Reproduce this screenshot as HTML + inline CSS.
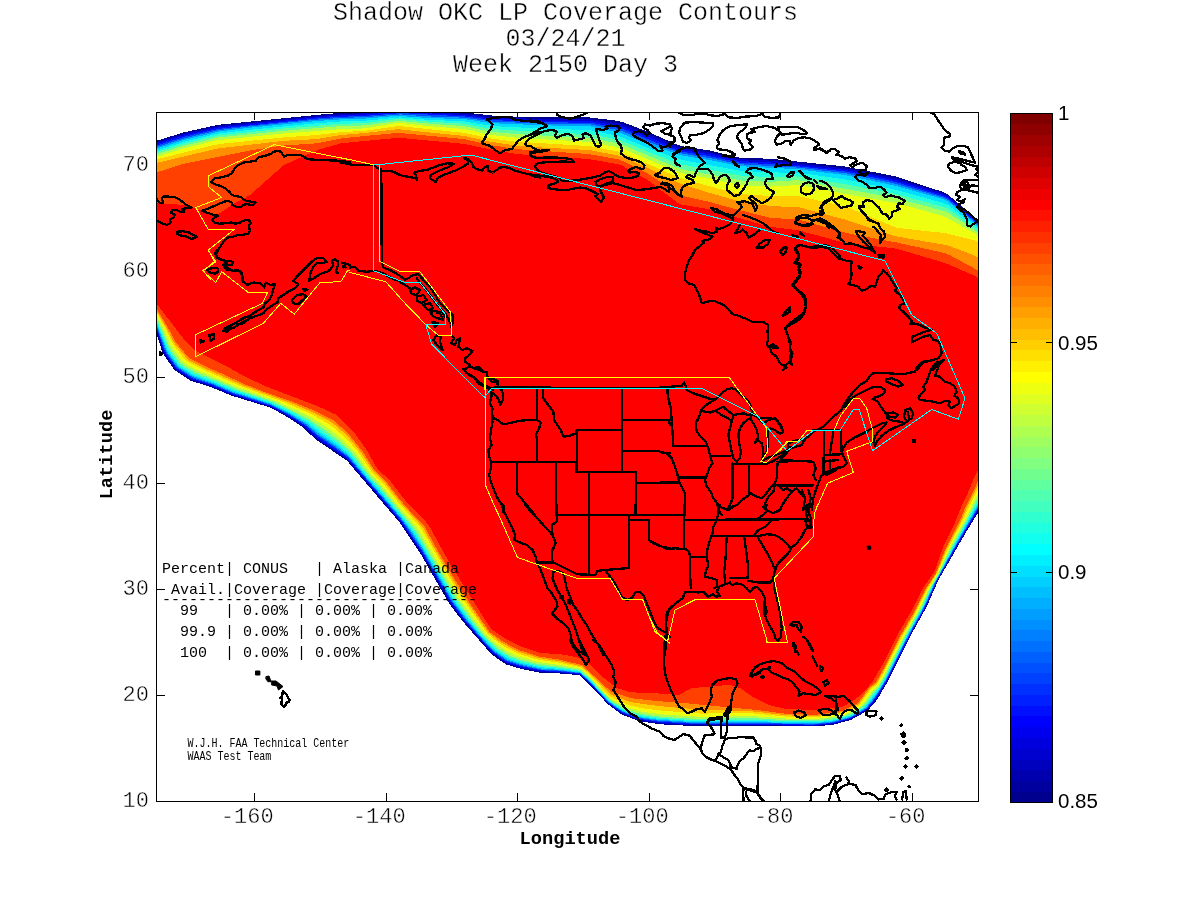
<!DOCTYPE html>
<html lang="en"><head><meta charset="utf-8"><title>Shadow OKC LP Coverage Contours</title>
<style>
html,body{margin:0;padding:0;background:#fff;}
body{width:1200px;height:900px;overflow:hidden;}
svg{display:block;}
.mono{font-family:"Liberation Mono","DejaVu Sans Mono",monospace;}
.sans{font-family:"Liberation Sans","DejaVu Sans",sans-serif;}
</style></head>
<body>
<svg width="1200" height="900" viewBox="0 0 1200 900">
<rect x="0" y="0" width="1200" height="900" fill="#fff"/>
<defs><clipPath id="ax"><rect x="157" y="113" width="821" height="688"/></clipPath></defs>
<g class="mono" font-size="25" text-anchor="middle" fill="#000" stroke="#fff" stroke-width="0.4">
<text x="565.5" y="20">Shadow OKC LP Coverage Contours</text>
<text x="565.5" y="46">03/24/21</text>
<text x="565.5" y="72">Week 2150 Day 3</text>
</g>
<path d="M254.5,801V793M254.5,113V120M386.5,801V793M386.5,113V120M517.5,801V793M517.5,113V120M649.5,801V793M649.5,113V120M780.5,801V793M780.5,113V120M912.5,801V793M912.5,113V120M157,695.5H165M978,695.5H970M157,589.5H165M978,589.5H970M157,483.5H165M978,483.5H970M157,377.5H165M978,377.5H970M157,271.5H165M978,271.5H970M157,165.5H165M978,165.5H970" stroke="#000" stroke-width="1" fill="none" shape-rendering="crispEdges"/>
<g clip-path="url(#ax)" shape-rendering="crispEdges">
<path fill="#00008f" fill-rule="evenodd" d="M366.5,111.8 401.2,109.0 429.2,110.1 464.8,112.4 490.2,115.4 514.8,116.6 540.8,117.4 589.8,117.5 616.8,120.7 622.8,122.1 647.9,131.8 677.2,144.7 682.2,146.2 709.8,150.5 739.8,157.7 770.8,158.8 845.2,166.5 895.2,176.4 942.8,191.9 948.2,194.7 977.6,220.2 1006.2,256.8 1010.2,260.9 1014.2,261.8 1049.8,261.8 1049.8,400.0 1033.8,391.7 1029.2,389.7 1028.2,389.8 1010.6,450.8 979.6,510.2 965.7,532.8 938.2,580.4 927.0,606.2 911.8,633.6 887.9,681.2 877.0,699.8 867.8,710.5 851.2,719.8 832.8,724.9 814.8,726.4 689.2,725.8 659.8,724.3 639.2,721.2 621.8,714.5 607.8,704.2 595.2,690.2 579.7,675.2 558.8,673.4 540.8,672.8 520.2,668.7 505.8,664.4 491.2,654.0 463.1,621.8 449.3,603.8 420.2,553.2 399.9,522.8 347.1,460.8 314.8,438.7 303.8,428.0 287.8,417.3 271.1,407.8 231.2,395.5 210.2,386.8 190.2,380.6 174.2,369.8 162.5,352.8 149.2,310.3 119.2,259.8 118.7,259.2 114.8,258.7 90.2,260.1 90.2,149.9 116.8,149.9 121.8,149.4 156.5,140.8 183.8,132.4 217.8,124.8 316.8,114.9 339.8,112.9Z"/>
<path fill="#0000cf" fill-rule="evenodd" d="M393.7,110.8 402.8,110.5 461.2,113.6 489.8,116.9 512.2,118.0 540.8,119.0 587.8,119.2 594.8,119.8 621.2,123.9 649.2,134.7 680.2,147.6 710.2,152.5 738.2,159.1 771.2,160.7 844.8,168.2 895.2,178.3 942.8,193.4 948.2,196.1 977.2,221.1 1006.2,258.1 1010.2,262.1 1014.2,263.0 1049.8,263.0 1049.8,400.0 1029.1,389.2 1027.3,389.2 1009.6,450.8 978.6,510.2 964.8,532.8 937.8,580.2 924.5,609.8 911.2,633.2 887.4,680.8 876.3,699.2 867.2,709.9 850.8,719.1 832.8,724.1 814.8,725.7 689.2,725.0 660.2,723.4 639.8,720.4 622.2,713.8 607.8,703.3 595.6,689.8 579.8,674.5 559.2,672.6 540.8,671.9 520.8,667.8 506.2,663.4 491.9,653.2 463.9,621.2 450.2,603.4 420.8,552.2 400.7,522.2 347.5,459.8 315.6,437.8 304.2,427.0 288.7,416.8 271.8,407.2 232.2,394.9 210.8,386.0 190.8,379.7 175.2,369.2 163.4,352.2 149.8,310.0 119.5,259.2 114.7,258.6 90.2,260.1 90.2,151.6 116.8,151.6 121.8,151.1 156.2,142.5 184.2,133.8 218.2,126.2 317.8,116.1 340.2,114.3 365.8,113.2Z"/>
<path fill="#0010ff" fill-rule="evenodd" d="M397.8,111.8 463.8,115.1 493.8,118.7 539.2,120.5 592.2,121.3 620.8,126.0 676.8,148.3 682.2,149.9 709.8,154.3 740.2,161.1 772.8,162.6 845.8,170.0 895.2,180.1 942.8,194.8 948.2,197.4 977.2,222.1 1006.2,259.1 1010.2,263.1 1014.2,264.0 1049.8,264.0 1049.8,399.9 1029.2,389.1 1026.5,388.8 1011.8,441.8 1009.0,450.2 978.0,509.8 964.2,532.7 937.2,580.3 923.9,609.8 910.8,633.1 886.8,680.8 875.8,698.8 867.0,709.2 852.2,717.8 847.2,719.6 832.2,723.5 814.8,725.1 689.8,724.3 660.2,722.6 639.8,719.6 622.2,713.1 608.2,703.1 595.8,689.2 579.8,674.0 559.2,672.0 541.2,671.1 521.2,667.0 506.8,662.6 492.6,652.8 464.5,620.8 450.9,602.8 421.7,552.2 401.6,522.2 347.8,458.8 316.2,436.7 304.8,426.1 288.8,415.8 271.8,406.5 232.2,394.1 211.2,385.3 191.2,378.8 175.8,368.5 164.1,351.8 150.3,310.2 136.2,287.2 120.0,259.2 119.2,258.7 114.8,258.5 90.2,260.0 90.2,153.2 116.8,153.2 121.8,152.7 156.2,144.0 184.2,135.3 218.8,127.5 317.2,117.3 339.8,115.5 365.8,114.5Z"/>
<path fill="#0050ff" fill-rule="evenodd" d="M365.8,115.8 401.2,113.1 463.8,116.4 493.2,120.1 539.2,122.0 591.2,122.9 620.8,128.3 654.6,141.8 677.2,150.3 682.2,151.7 709.8,156.2 740.2,162.7 770.2,164.1 796.8,166.1 845.8,171.6 895.2,181.9 942.8,196.1 948.2,198.8 977.2,223.1 1006.2,260.1 1010.2,264.1 1014.2,265.0 1049.8,265.0 1049.8,399.8 1028.8,388.8 1025.8,388.2 1011.1,441.8 1008.5,449.8 977.2,509.7 957.0,544.2 937.2,579.8 923.4,609.8 910.4,632.8 886.5,680.2 875.2,698.3 866.7,708.8 852.1,717.2 847.2,719.0 832.2,722.9 814.2,724.6 690.2,723.5 660.8,721.9 640.2,718.9 622.8,712.6 608.2,702.5 595.9,688.8 588.5,681.2 579.8,673.5 559.2,671.3 541.2,670.3 521.2,666.1 506.8,661.5 493.2,652.2 480.2,638.0 465.2,620.4 451.8,602.5 422.2,551.5 402.2,521.8 348.2,458.0 335.3,448.2 316.8,435.5 305.2,425.3 289.4,415.2 272.2,406.0 232.8,393.4 211.8,384.6 192.2,378.1 176.4,367.8 165.0,351.8 150.4,309.8 136.5,287.2 120.2,259.0 114.8,258.4 90.2,260.0 90.3,154.8 116.8,154.8 121.8,154.3 156.2,145.6 184.2,136.8 218.8,128.8 316.8,118.5 339.8,116.8Z"/>
<path fill="#009fff" fill-rule="evenodd" d="M365.2,117.1 400.3,114.4 427.8,116.4 463.8,117.7 493.2,121.6 539.2,123.5 590.8,124.5 620.2,130.5 651.2,142.9 676.8,152.0 682.2,153.5 709.8,158.1 740.2,164.3 797.8,167.6 845.2,173.2 895.2,183.7 942.8,197.5 948.2,200.1 977.2,224.2 1006.2,261.2 1010.2,265.1 1014.2,266.0 1049.8,266.0 1049.8,399.8 1029.1,388.8 1025.0,387.8 1010.6,441.2 1007.8,449.6 976.8,509.2 956.4,544.2 934.9,583.2 922.9,609.8 909.9,632.8 885.9,680.2 874.4,698.2 866.2,708.3 851.8,716.8 846.8,718.6 832.2,722.3 814.2,724.0 749.2,723.0 690.2,722.8 657.2,720.6 639.8,718.0 627.8,713.9 621.8,711.3 608.2,701.9 596.2,688.5 580.2,673.1 559.2,670.6 541.8,669.6 521.2,665.2 507.2,660.7 493.8,651.5 480.9,637.8 466.2,620.2 452.3,601.8 423.1,551.2 406.8,526.8 400.4,518.2 364.4,476.2 348.8,457.2 336.2,447.5 317.2,434.3 306.2,424.7 290.1,414.8 279.8,409.2 270.2,404.4 233.2,392.8 211.8,383.7 192.6,377.2 177.8,367.6 176.2,366.2 165.8,351.3 150.9,309.8 136.5,286.8 120.4,258.8 114.8,258.3 90.2,259.9 90.2,156.4 116.8,156.4 121.8,155.9 156.2,147.2 184.8,138.2 219.2,130.1 251.0,126.2 316.2,119.7 339.8,118.0Z"/>
<path fill="#00dfff" fill-rule="evenodd" d="M397.2,115.8 428.2,118.0 464.8,119.2 491.8,123.2 538.8,125.2 590.8,126.5 619.9,132.8 651.2,145.5 682.2,155.6 710.0,160.2 740.2,166.2 797.4,169.2 844.8,175.0 895.4,185.8 943.1,199.2 948.3,201.8 977.2,225.4 1006.2,262.2 1010.2,266.2 1014.2,267.1 1049.8,267.1 1049.8,399.7 1029.2,388.7 1025.2,387.2 1024.1,387.2 1009.8,441.2 1007.2,448.9 976.2,508.5 956.0,543.8 934.5,583.2 922.8,608.9 909.6,632.2 885.8,679.3 880.2,688.6 873.8,697.9 865.7,707.8 851.4,716.2 846.8,717.9 831.8,721.6 814.2,723.3 749.2,722.1 690.2,722.0 657.2,719.7 640.2,717.2 628.2,713.3 622.2,710.8 608.2,701.2 589.3,680.8 580.2,672.5 559.8,669.9 541.8,668.7 521.5,664.2 507.7,659.8 494.3,650.8 481.5,637.2 466.8,619.5 453.2,601.4 423.6,550.2 413.0,533.8 401.1,517.8 365.2,476.0 349.2,456.3 336.8,446.3 318.2,433.2 306.8,423.8 287.8,412.4 270.8,403.9 233.1,391.8 212.2,382.9 193.0,376.2 178.3,366.8 166.8,351.2 151.5,310.2 136.7,286.8 120.9,258.8 114.8,258.2 90.2,259.8 90.2,158.1 116.8,158.0 121.8,157.6 155.8,148.9 184.7,139.8 220.2,131.3 249.3,127.8 317.2,121.0 340.2,119.4 365.2,118.6Z"/>
<path fill="#20ffdf" fill-rule="evenodd" d="M365.2,120.7 400.2,117.4 427.8,119.8 463.7,121.3 493.2,126.1 538.2,128.4 590.8,130.2 620.2,136.5 651.2,149.3 682.2,160.0 740.8,170.8 768.8,172.4 795.8,172.7 801.8,173.2 846.8,179.7 895.8,189.8 942.8,202.8 948.8,205.5 977.2,227.4 1006.6,264.2 1010.8,268.0 1014.8,268.7 1049.8,268.7 1049.8,399.7 1029.2,388.6 1024.8,386.7 1022.8,386.8 1008.9,440.8 1006.2,448.8 989.1,480.8 975.2,508.2 955.5,543.2 939.2,574.3 934.0,583.2 921.9,609.2 908.9,632.2 885.0,679.2 879.8,688.1 864.8,707.4 851.2,715.4 846.2,717.3 831.8,720.7 814.2,722.5 786.2,722.2 749.2,720.8 709.8,721.3 690.8,721.0 657.8,718.7 640.2,716.2 628.8,712.6 622.8,710.1 608.6,700.8 589.7,680.2 580.2,671.8 559.8,669.0 539.8,667.1 521.2,662.8 508.2,658.4 495.8,650.3 492.2,646.9 482.3,636.8 467.8,618.9 454.2,600.5 424.7,549.8 414.2,533.1 402.2,517.2 392.8,506.8 378.8,489.5 366.0,475.2 350.1,455.2 338.2,445.2 319.2,431.6 308.1,422.8 288.2,411.4 271.2,403.1 233.8,390.8 212.8,381.8 193.8,375.0 180.8,366.9 178.2,364.8 168.0,350.8 151.8,309.8 137.0,286.8 121.4,258.8 120.2,258.2 114.8,258.1 90.2,259.8 90.2,160.0 116.8,160.0 121.8,159.5 156.2,150.6 184.8,141.6 218.8,133.4 251.8,129.6 315.2,123.4 339.8,121.5Z"/>
<path fill="#60ff9f" fill-rule="evenodd" d="M395.6,119.2 400.8,119.1 427.8,121.6 463.8,123.7 488.2,128.4 494.2,129.1 520.2,130.9 591.2,134.3 620.8,140.4 652.2,153.5 677.2,163.2 682.8,164.8 740.8,175.6 769.2,177.2 795.2,176.4 800.2,176.7 846.8,184.4 896.2,194.1 943.2,206.9 949.2,209.6 977.2,229.7 1006.4,265.8 1010.8,269.7 1014.8,270.3 1049.8,270.3 1049.8,399.6 1028.7,388.2 1024.2,386.2 1022.2,385.8 1021.4,386.2 1007.8,440.8 1005.1,448.2 988.0,480.2 974.5,507.2 950.8,550.2 938.8,574.4 933.5,583.2 921.2,609.0 905.2,637.8 885.2,677.1 879.2,687.5 874.9,692.2 864.8,706.0 862.8,707.8 850.5,714.8 844.8,716.9 831.2,719.8 814.2,721.5 786.2,721.2 749.2,719.5 710.2,720.3 690.8,719.9 661.8,718.1 647.8,716.2 640.2,715.1 626.2,710.7 623.2,709.3 610.2,701.3 589.8,679.4 580.2,670.9 559.8,667.9 542.8,666.3 537.2,665.4 518.8,660.6 508.8,656.9 496.8,649.3 493.4,646.2 483.3,636.2 471.6,621.8 455.5,599.8 425.8,548.9 415.5,532.2 402.9,516.2 394.0,506.2 379.9,488.8 367.1,474.8 353.9,457.2 350.8,453.7 339.2,443.6 309.2,421.5 291.8,411.8 271.2,402.0 234.6,389.8 213.7,380.8 194.2,373.5 182.8,366.5 179.4,363.8 169.3,350.2 152.1,309.2 137.2,286.6 121.9,258.8 120.8,258.1 114.8,258.0 90.2,259.7 90.2,162.0 116.8,162.0 121.8,161.5 156.2,152.4 184.2,143.7 218.2,135.4 282.2,128.7 336.8,124.0 365.8,123.0Z"/>
<path fill="#afff50" fill-rule="evenodd" d="M399.1,120.8 427.8,123.6 464.2,126.1 488.8,131.4 498.2,132.5 517.2,134.1 591.8,138.3 620.8,144.1 675.9,167.2 683.2,169.5 741.2,180.5 769.8,181.9 795.2,180.3 799.8,180.4 897.2,198.5 943.8,211.0 947.2,212.4 951.3,214.8 973.5,229.2 977.8,232.6 1006.4,267.8 1010.8,271.5 1014.8,272.1 1049.8,272.2 1049.8,399.5 1028.8,388.2 1023.2,385.7 1020.1,385.2 1006.8,440.2 1003.8,448.2 987.0,479.2 966.2,520.5 950.1,549.8 938.2,574.2 928.1,592.2 920.8,608.3 904.5,637.2 884.7,676.2 878.7,686.6 873.8,691.7 866.2,702.3 861.8,707.2 850.2,713.8 844.2,716.0 830.8,718.8 814.2,720.5 786.2,720.1 749.8,718.0 727.2,718.2 709.8,719.0 690.8,718.6 661.9,716.8 641.2,714.0 624.8,708.9 610.2,700.3 590.2,678.8 580.8,670.2 559.8,666.7 537.8,664.0 519.2,659.2 509.1,655.2 497.2,647.8 487.8,639.1 484.2,635.5 472.8,621.0 456.7,598.8 416.7,531.2 380.9,487.8 368.2,474.0 355.1,456.2 350.2,451.0 340.8,442.2 325.8,430.6 309.2,419.4 292.2,410.4 271.8,401.1 241.1,390.8 214.2,379.4 195.6,372.2 183.8,365.3 180.7,362.8 170.8,349.7 152.5,308.8 137.4,286.2 122.6,258.8 120.8,257.9 114.8,257.9 90.2,259.7 90.2,164.1 116.8,164.1 121.8,163.6 155.8,154.5 183.9,145.8 218.2,137.5 282.8,130.9 338.2,126.3 365.2,125.4Z"/>
<path fill="#efff10" fill-rule="evenodd" d="M395.2,123.2 401.2,123.0 427.8,126.0 463.8,129.0 490.2,134.9 513.2,137.4 591.8,142.1 621.2,148.1 680.2,172.9 709.9,178.2 737.8,184.6 743.2,185.3 769.2,186.6 798.8,185.0 845.8,194.0 897.6,203.2 945.4,216.8 974.2,233.2 979.2,237.5 1006.4,270.8 1010.8,274.5 1014.8,275.1 1049.8,275.1 1049.8,399.4 1025.0,386.2 1020.2,384.2 1018.1,384.2 1005.2,439.8 1002.3,447.2 985.2,478.8 965.2,519.3 949.1,549.2 937.8,573.8 927.8,590.8 919.8,607.9 903.5,636.8 883.7,675.8 878.2,685.3 872.8,690.3 864.8,701.6 860.8,706.3 849.2,712.7 844.2,714.7 830.2,717.3 814.8,719.1 786.8,718.6 749.8,715.9 700.2,716.8 662.8,714.4 641.8,711.7 625.7,707.2 610.8,699.0 605.8,694.2 590.8,677.8 580.8,668.8 559.8,665.0 537.8,662.1 516.8,656.1 509.5,652.8 498.2,645.8 485.3,634.2 471.3,615.8 458.6,597.8 418.8,530.1 396.2,503.8 382.6,486.8 369.8,473.0 356.0,453.8 343.2,440.5 327.4,427.7 311.2,417.6 299.2,411.5 272.2,399.6 235.2,386.4 195.9,369.8 185.3,363.8 182.2,360.9 170.9,345.8 165.9,334.2 153.1,308.2 137.9,286.2 123.4,258.8 120.8,257.7 114.8,257.8 90.2,259.6 90.2,167.0 116.8,167.0 121.2,166.5 155.8,157.0 184.1,148.2 217.8,140.1 285.7,133.2 338.8,129.3 364.8,128.4Z"/>
<path fill="#ffcf00" fill-rule="evenodd" d="M397.4,126.2 402.8,126.4 463.8,132.8 490.2,138.4 514.8,141.6 589.8,146.1 617.8,151.5 624.8,154.0 680.2,178.0 709.4,186.2 735.2,192.8 742.2,194.1 767.8,195.8 795.2,196.0 800.8,196.6 846.7,206.9 896.7,227.8 945.8,233.2 974.2,240.3 977.2,241.7 979.8,244.0 1006.2,275.7 1010.2,279.4 1014.2,280.2 1049.8,280.2 1049.8,399.4 1025.2,386.2 1018.5,383.2 1015.6,382.8 1003.3,439.2 1000.6,445.8 981.8,480.5 976.4,492.2 967.2,510.3 963.6,518.8 947.4,549.8 937.2,573.3 926.8,590.2 915.1,614.2 902.3,636.2 882.6,674.8 877.2,684.3 871.2,688.9 859.4,705.2 843.7,713.2 815.2,717.4 786.8,716.7 756.2,713.6 744.8,713.0 700.8,713.6 663.2,710.8 643.2,708.4 628.6,705.2 611.2,697.1 608.7,695.2 589.8,675.0 581.2,667.4 558.8,662.7 538.2,659.7 517.2,653.4 503.2,645.9 498.2,642.6 487.5,633.8 468.3,607.2 453.1,583.8 421.0,528.2 398.0,502.2 384.7,485.2 371.7,471.8 359.6,453.8 345.7,437.8 330.2,424.7 310.2,413.5 284.2,402.2 242.2,386.8 203.8,370.0 187.2,361.7 182.6,356.8 172.8,344.1 167.7,333.2 156.1,311.8 153.8,307.7 138.2,286.1 124.3,258.8 120.8,257.6 90.2,259.5 90.2,170.1 116.8,170.1 121.2,169.6 158.8,158.7 218.2,144.1 282.8,137.5 316.8,135.0 339.8,132.3 365.2,130.8Z"/>
<path fill="#ff8f00" fill-rule="evenodd" d="M397.7,129.2 463.8,135.9 490.2,141.7 514.8,145.4 539.8,147.4 588.8,150.0 618.2,155.4 623.2,157.2 648.1,168.2 680.8,183.9 709.8,193.0 736.8,200.6 742.8,201.9 769.2,205.9 799.8,207.5 846.8,220.1 896.2,236.4 947.8,245.4 973.2,255.0 977.8,257.4 1006.2,287.9 1010.2,291.2 1014.2,292.0 1049.8,292.0 1049.8,399.3 1025.2,386.1 1015.8,381.6 1014.2,381.3 1013.7,381.7 1001.9,438.8 999.4,444.8 979.7,480.8 975.1,491.2 965.8,509.8 962.4,518.2 946.4,549.2 936.8,572.7 926.0,589.8 914.0,614.2 901.6,635.2 886.6,665.2 876.3,683.8 870.2,687.8 858.6,704.2 843.2,712.1 815.2,716.1 787.2,715.4 756.8,711.8 745.2,710.9 701.2,709.7 658.8,706.1 630.8,702.2 616.8,697.0 610.2,694.0 590.2,673.9 581.8,666.3 559.2,661.2 538.8,658.0 517.8,651.5 504.2,644.2 498.8,640.8 488.2,632.3 469.9,606.2 456.8,586.2 434.4,548.2 422.8,527.2 399.4,501.2 386.2,484.2 373.0,470.8 361.4,452.8 346.8,435.2 331.8,422.2 311.2,411.5 291.8,403.3 243.2,385.4 208.2,369.9 188.2,359.9 174.0,342.8 168.9,332.2 154.4,307.2 138.6,285.8 125.2,258.8 120.8,257.5 90.2,259.4 90.2,174.2 120.8,173.8 157.0,162.8 218.2,148.4 283.2,140.9 316.2,139.1 340.2,135.1 365.2,133.0Z"/>
<path fill="#ff4000" fill-rule="evenodd" d="M398.1,132.8 464.2,139.1 490.2,145.0 515.2,149.0 589.2,154.1 618.2,159.3 623.4,161.2 649.2,174.3 676.9,193.2 681.8,195.7 710.2,202.1 739.3,210.2 767.4,217.2 772.2,218.0 798.8,219.6 847.2,233.2 896.8,242.5 945.2,253.1 951.2,255.8 977.2,270.0 1006.6,299.2 1010.2,302.1 1014.2,302.8 1049.8,302.8 1049.8,399.2 1029.2,388.0 1015.8,381.2 1013.2,380.5 1012.1,380.8 999.8,440.4 978.4,479.8 973.8,490.6 964.5,509.2 961.2,517.6 945.4,548.8 935.8,573.1 925.2,589.2 913.2,613.5 900.4,635.2 885.8,664.6 875.8,682.5 869.3,687.2 857.7,703.2 842.8,710.9 817.8,714.5 802.8,714.5 799.8,714.0 787.8,714.0 757.2,710.0 686.8,703.3 659.8,701.3 631.8,698.3 611.2,691.9 582.2,665.1 559.2,659.6 539.2,656.5 518.2,649.8 501.7,640.8 489.8,632.0 471.6,605.8 455.8,581.2 435.8,547.2 424.4,526.2 411.5,512.8 400.8,500.5 387.4,483.2 374.2,470.0 362.9,451.8 347.8,433.1 333.2,420.1 311.8,409.5 292.8,401.9 266.8,392.8 243.7,383.8 226.2,375.5 209.2,368.2 189.3,358.2 175.8,342.2 170.5,331.8 155.5,307.2 139.2,285.8 126.2,258.8 124.2,257.8 120.8,257.3 90.2,259.3 90.2,184.2 116.8,184.1 121.2,183.6 183.7,163.8 251.8,150.2 282.2,145.6 316.2,143.4 342.8,138.2Z"/>
<path fill="#ff0000" fill-rule="evenodd" d="M394.1,138.2 403.4,138.2 463.4,143.8 490.2,149.4 515.8,153.9 540.8,155.9 565.8,157.2 588.7,159.2 618.6,164.2 623.2,166.2 648.8,180.8 676.8,202.2 680.8,204.5 709.4,209.2 768.2,226.6 798.2,230.3 845.8,243.1 893.2,248.2 900.5,249.8 945.7,263.2 975.5,276.2 980.1,279.8 1006.2,305.6 1010.2,308.6 1014.7,309.3 1049.8,309.3 1049.8,399.1 1016.2,381.2 1006.4,376.8 1005.0,376.8 1005.3,381.2 998.1,430.2 974.2,477.8 969.6,489.2 961.1,507.2 952.8,527.8 943.0,547.2 934.8,571.0 922.5,588.8 910.2,613.2 898.5,633.2 884.2,661.7 872.8,681.3 865.6,690.2 857.1,697.8 853.2,700.6 842.8,706.7 818.2,709.8 802.8,709.8 799.8,709.3 787.2,709.3 769.8,705.2 752.8,697.0 740.8,688.5 730.2,684.8 691.2,688.2 679.2,695.1 657.8,693.4 631.2,692.3 616.8,688.1 603.2,677.3 588.2,662.9 577.2,657.3 559.2,653.9 540.8,653.2 520.2,646.1 504.6,638.2 492.2,629.9 490.0,626.8 480.0,611.8 449.8,563.4 428.2,524.2 414.2,510.1 403.9,498.8 390.4,481.2 376.8,468.0 366.6,449.8 355.8,434.8 352.2,430.3 337.1,415.2 317.2,406.0 266.2,386.5 245.2,376.8 231.2,368.8 195.1,350.8 184.6,340.2 158.3,305.8 140.7,285.2 129.3,258.2 120.8,257.1 90.2,259.3 90.2,203.0 155.2,203.2 180.8,204.7 186.8,205.9 212.8,214.2 216.8,214.7 219.8,213.2 232.8,204.4 249.9,195.2 283.8,165.1 313.3,151.8 320.2,149.2 341.6,143.2Z"/>
</g>
<g clip-path="url(#ax)" fill="none" stroke-linejoin="round" stroke-linecap="round">
<path stroke="#000" stroke-width="2.3" shape-rendering="crispEdges" d="M840.8,430.0 841.7,453.3M833.3,431.7 830.0,453.3M824.2,430.8 823.3,475.0M813.3,430.0 840.8,430.0M824.2,455.0 843.3,454.2M823.3,461.7 838.3,460.0M780.0,460.0 813.3,461.7 815.8,468.3 813.3,475.0 815.8,480.0M780.0,485.8 811.7,485.8M830.0,460.0 830.0,468.3M780.0,460.0 786.7,453.3 788.3,446.7M492.5,415.0 493.3,418.3 498.3,420.0 500.8,423.3 505.0,424.2 511.7,422.5 520.0,420.8 528.3,420.0 536.7,420.0M491.7,387.8 670.0,387.8M537.0,388.3 537.0,420.0 540.8,422.5 539.2,428.3 535.8,435.0 537.0,438.3 537.0,461.3M543.3,388.3 543.3,398.3 548.3,405.0 553.3,411.7 554.2,420.0 556.7,424.2 560.8,430.0 563.3,436.7 570.0,435.8 575.8,433.3 576.7,430.0M576.7,430.0 621.7,430.0M622.0,388.3 622.0,471.7M576.7,430.0 576.7,471.7 635.8,471.7 635.8,515.0M490.8,461.7 575.8,461.7 575.8,471.7M517.0,462.5 517.0,493.3 535.0,515.0M556.2,462.5 556.2,515.0M588.8,472.5 588.8,515.0M622.5,419.7 670.0,419.7M622.5,450.8 658.3,450.8 663.3,453.3 670.0,453.3M635.8,483.0 670.0,483.0M667.5,388.3 668.3,398.3 670.0,406.7M669.2,421.7 670.0,425.0M525.0,505.0 552.5,535.0 551.7,525.0 556.7,521.7 556.7,505.0M552.5,535.0 555.8,543.3 552.5,550.0 551.7,558.3 553.3,562.5M556.7,515.0 670.0,515.0M589.2,505.0 589.2,575.0M635.0,505.0 635.0,514.2M536.7,562.5 553.3,562.5 576.7,574.2 595.0,575.0 597.5,570.8 605.0,570.0 629.2,568.0 629.2,515.8M630.0,520.0 649.2,520.0 649.2,540.0 653.3,543.3 661.7,546.7 670.0,548.3M605.0,570.0 610.0,576.7 615.0,583.3 618.3,590.0 621.7,596.7 626.7,600.0 631.7,598.3 635.8,591.7 640.0,591.7 644.2,596.7 646.7,603.3 650.0,611.7 653.3,620.0 656.7,626.7 661.7,630.8 666.7,633.3 670.0,636.7M666.7,388.3 668.3,398.3 670.8,408.3 671.7,420.0 672.5,431.7 673.3,445.0M673.3,445.8 705.8,445.8M678.3,477.5 705.0,477.5M660.0,451.7 666.7,453.3 671.7,458.3 675.0,466.7 677.5,475.0 679.2,481.7 682.5,488.3 685.0,493.3 685.0,515.0M660.0,420.0 671.7,420.0M660.0,482.5 680.0,482.5M700.8,410.8 699.2,416.7 695.8,423.3 696.7,431.7 700.8,436.7 705.8,441.7 708.3,448.3 710.0,455.8 712.5,463.3 709.2,468.3 707.5,473.3 705.0,480.0 706.7,486.7 710.8,491.7 713.3,498.3 717.5,503.3 718.3,510.0 721.7,515.0M710.0,456.3 730.0,456.3M715.0,410.8 721.7,415.0 728.3,418.3 731.7,421.7M732.5,463.3 732.5,498.3 730.0,505.0 726.7,510.0 731.7,506.7 736.7,505.0 741.7,500.0 746.7,496.7 750.8,493.3 756.7,496.7 761.7,498.3 765.0,495.0 770.0,488.3 775.0,483.3 776.7,478.3 777.5,463.3M749.2,464.2 749.2,493.3M732.5,463.7 761.7,463.7M777.5,485.0 813.3,485.0M777.5,461.7 786.7,461.7M777.5,485.0 783.3,490.0 786.7,488.3 791.7,491.7 796.7,488.3 801.7,495.0 805.0,498.3M775.0,483.3 773.3,491.7 768.3,496.7 765.0,503.3 766.7,510.0 773.3,513.3 780.0,510.0 783.3,503.3 786.7,498.3 791.7,491.7M650.0,515.0 684.2,515.0M684.2,505.0 684.2,548.3 689.2,551.7 690.0,556.7 690.0,571.7 690.8,588.3M684.2,520.0 715.0,520.0M716.7,519.7 808.3,519.2M720.0,505.0 718.3,513.3 716.7,520.0 713.3,526.7 712.5,533.3 710.0,540.0 707.5,548.3 706.7,556.7 708.3,565.0 705.8,571.7 705.0,576.7 711.7,578.3 716.7,580.0 717.5,586.7 714.2,588.3M690.0,557.0 707.5,557.0M713.3,535.8 760.0,535.8 766.7,534.2 775.0,535.0 783.3,540.0 790.0,547.5M726.7,536.7 725.8,555.0 724.2,571.7 725.0,583.3M744.2,536.7 746.7,555.0 748.3,568.3 747.5,578.3M730.0,578.3 747.5,578.3M748.3,580.8 758.3,582.5 770.0,582.5 773.3,579.2M758.3,538.3 763.3,546.7 768.3,555.0 771.7,561.7 774.2,568.3M753.3,535.8 758.3,530.0 765.0,526.7 770.0,521.7 771.7,520.0M756.7,519.2 763.3,515.0 766.7,510.8 763.3,506.7 766.7,505.0M716.7,505.0 723.3,508.3 728.3,510.0 733.3,506.7 736.7,505.0M650.0,540.8 658.3,545.0 666.7,549.2 675.0,548.3 684.2,549.2"/>
<path stroke="#000" stroke-width="2.3" shape-rendering="crispEdges" d="M350.0,162.5 341.7,160.8 331.7,160.5 323.3,160.0 315.0,159.7 308.3,159.2 305.0,157.5 300.8,155.3 293.3,154.7 287.5,155.0 284.2,156.7 282.5,154.2 280.8,151.7 277.5,150.8 274.2,151.7 270.0,154.2 265.0,155.8 258.3,157.5 255.8,160.8 250.0,161.7 243.3,162.5 238.3,165.0 234.2,169.2 231.7,173.3 227.5,175.8 221.7,177.2 215.0,178.3 210.8,182.0 214.2,184.2 220.0,185.8 225.0,188.3 229.2,191.7 232.5,195.3 236.7,196.3 240.8,197.0 244.2,200.0 248.3,201.3 255.8,202.5 252.5,205.0 247.5,204.2 244.2,204.5 240.8,206.7 235.8,206.7 232.5,205.0 231.7,202.5 227.5,200.8 223.3,202.0 218.3,204.2 212.5,206.7 206.7,209.2 202.0,210.8 207.5,212.8 212.5,214.5 218.0,215.8 214.2,217.5 212.5,220.0 214.2,222.5 219.2,223.7 225.0,223.3 231.7,222.5 235.8,223.7 240.0,222.5 243.3,220.8 248.3,219.7 250.8,222.5 248.7,226.3 250.0,230.8 248.3,233.7 243.3,234.7 238.3,234.7 233.3,236.7 227.5,237.5 224.2,240.8 220.8,245.8 216.7,252.5 215.8,256.7 219.2,259.2 223.3,260.3 225.8,261.7 224.2,265.0 228.3,268.3 233.3,270.8 238.3,270.0 241.7,273.3 242.5,280.0M226.7,261.7 230.0,260.8 233.0,262.5 231.7,265.0 228.3,265.3 226.7,263.3 226.7,261.7M177.5,231.7 183.3,231.3 189.2,232.5 193.3,235.0 196.7,236.7 191.7,239.2 187.5,236.7 181.7,235.8 177.5,234.2 177.5,231.7M156.7,199.2 160.0,203.3 163.3,202.5 161.7,198.3 164.2,196.3 170.0,196.7 175.0,197.2 179.2,199.2 183.3,202.5 187.5,205.8 191.7,207.5 185.8,208.3 181.7,209.2 184.2,211.7 180.0,211.7 176.7,210.0 172.5,210.0 170.8,212.5 175.0,215.0 173.3,217.5 170.0,219.2 170.8,222.5 166.7,225.0 161.7,223.3 156.7,220.8M206.7,270.0 211.7,268.3 217.5,268.3 218.3,271.7 215.0,273.7 210.0,272.5 206.7,270.0M340.0,162.5 346.7,163.7 353.3,165.0 363.3,164.7 373.3,165.3 377.5,168.0 381.7,170.8 390.0,170.8 395.0,172.5 401.7,175.8 410.0,177.0 415.0,178.3 417.0,180.0 415.8,175.0 414.2,172.5 420.0,170.8 426.7,170.0 433.3,167.5 440.0,165.0 446.7,163.3 454.2,163.7 450.0,166.3 443.3,169.2 436.7,171.7 430.8,175.0 430.0,178.3 435.8,182.0 437.5,178.3 443.3,175.0 450.0,172.5 456.7,170.0 463.3,166.7 468.3,163.3 467.5,160.0 464.2,158.0 468.3,159.2 471.7,162.5 473.3,166.7 476.7,169.2 482.5,170.8 484.2,167.5 487.5,165.8 488.3,170.8 492.5,172.5 496.7,170.0 500.0,167.5 505.0,167.0 510.0,168.3 515.0,170.8 521.7,172.5 528.3,174.2 535.0,176.7 540.0,177.5M381.3,169.2 381.7,255.0M540.0,123.3 535.0,121.7 523.3,120.8 513.3,119.2 510.0,116.7 496.7,117.5 486.7,119.2 492.5,124.2 490.8,129.2 486.7,134.2 485.0,138.3 481.7,143.3 490.0,145.8 495.0,150.0 500.0,153.3 505.0,150.0 511.7,149.2 515.0,145.0 518.3,140.8 523.3,137.5 531.7,134.2 540.0,131.7M557.5,112.8 556.9,114.8 560.6,116.5 570.0,118.8 578.1,116.5 583.8,114.4 586.9,112.8M530.0,120.6 537.5,121.2 543.8,123.8 546.9,126.2 540.0,128.8 535.0,131.9 530.0,135.0M530.0,138.1 536.2,135.0 543.8,131.2 552.5,129.8 556.9,131.9 555.0,135.6 556.9,137.8 562.5,135.0 568.8,133.8 573.1,136.9 573.8,140.6 578.8,139.4 583.8,138.1 582.5,134.4 585.0,133.1 590.0,135.0 592.5,139.4 595.0,145.0 598.1,147.2 601.2,145.0 599.4,140.0 596.9,133.1 596.2,128.8 602.5,130.0 607.5,128.8 605.6,126.9 610.0,125.6 617.5,126.0 620.0,128.1 618.1,131.2 615.0,131.9 615.6,136.9 617.5,141.9 621.2,145.6 621.9,150.0 620.6,153.1 625.0,156.9 631.2,159.4 636.9,160.6 641.2,162.5 644.4,165.6 643.1,169.4 638.8,168.1 636.2,166.9 631.2,168.8 628.1,170.6 630.0,172.5 635.0,171.9 638.8,173.1 638.1,175.6 633.8,177.5 628.8,178.1 622.5,177.5 617.5,176.2 612.5,173.1 608.8,171.0 605.0,172.5 600.0,175.6 592.5,177.5 585.0,178.8 577.5,180.0 571.2,180.6 565.0,181.2 561.2,180.6 558.8,178.1 555.0,176.2 548.8,175.0 542.5,173.1 537.5,170.0 535.0,166.9 536.2,163.8 542.5,162.5 552.5,161.9 562.5,161.5 573.8,161.9 571.2,159.4 565.0,158.1 555.0,157.5 545.0,157.5 537.5,158.1 532.5,156.9 530.0,155.0M530.0,152.2 538.8,150.8 548.8,150.2 540.0,151.8 530.0,153.1M530.0,174.4 540.0,175.6 551.2,177.5 556.9,180.0 558.1,181.9 553.8,183.8 548.8,185.0 548.1,188.1 552.5,189.0 561.2,190.0 567.5,190.0 573.8,188.5 580.0,187.5 585.0,188.1 590.0,190.0 595.0,192.5 598.1,194.4 595.0,196.2 598.1,199.4 601.2,202.2 603.8,197.5 601.9,193.8 600.0,190.0 599.4,186.9 605.0,185.0 612.5,183.1 620.0,185.0 630.0,188.1 636.2,190.0 645.0,189.4 653.8,188.1 660.0,186.9 666.2,190.0 668.8,191.9 669.4,188.1 666.9,185.0 661.2,183.8 662.5,182.5 668.8,183.8 672.5,186.2 675.0,191.2 678.8,195.0M595.6,181.9 600.0,179.4 607.5,176.9 613.1,177.5 612.5,181.2 606.2,183.8 600.0,186.2 596.2,185.0 595.6,181.9M633.8,132.5 638.8,131.2 643.8,132.5 646.2,135.6 650.0,133.1 647.5,130.0 643.1,127.5 645.0,124.4 650.0,125.6 655.0,123.8 662.5,123.1 670.0,124.4 671.2,126.2 666.2,128.8 661.2,131.2 665.0,133.8 671.2,135.0 674.4,137.5 675.0,141.2 670.0,142.5 667.5,146.2 662.5,147.5 660.0,145.6 662.5,150.6 658.8,151.2 653.8,147.5 648.8,143.8 642.5,140.6 636.2,137.5 633.1,135.0 633.8,132.5M680.0,151.2 675.0,153.8 672.5,156.9 675.6,158.8 675.0,162.5 677.5,165.0 680.0,165.6M655.0,175.0 660.0,172.5 663.8,168.1 668.8,168.1 673.8,171.2 676.2,175.0 678.1,178.1 671.2,180.0 665.0,178.1 658.8,176.9 655.0,175.0M679.3,113.1 683.3,114.7 691.3,115.3 696.7,114.0 704.7,113.6 710.0,115.3 718.0,116.0 724.7,114.0 728.7,117.3 736.7,118.0 744.7,116.7 755.3,116.0 760.7,114.7 762.0,113.1M762.0,113.3 764.7,116.7 771.3,118.0 779.3,117.3 780.0,113.3M680.0,128.0 684.7,122.7 694.0,122.0 704.7,122.7 712.7,123.3 713.3,126.0 708.7,130.0 703.3,133.3 696.7,134.7 690.0,135.3 688.7,138.0 691.3,140.0 687.3,142.9 683.3,142.0 681.3,137.3 679.3,132.7 680.0,128.0M670.0,126.0 672.0,128.0 670.0,134.7M670.0,135.3 674.0,136.7 674.7,140.7 671.3,144.7 670.0,146.7M723.3,155.3 730.0,156.0 735.3,154.7 731.3,152.0 726.0,150.0 718.0,149.3 716.7,146.7 719.3,143.3 717.3,140.0 720.0,134.0 723.3,130.0 728.7,126.7 736.7,125.1 747.3,124.3 744.7,128.7 739.3,132.7 736.7,136.7 739.3,140.7 742.0,144.0 742.7,148.0 744.7,150.7 751.3,149.3 752.7,146.7 749.3,143.3 751.3,140.7 747.3,138.7 746.7,134.7 750.0,132.7 755.3,132.0 751.3,129.3 758.0,127.3 766.0,126.0 775.3,128.0 780.7,132.7 776.7,136.7 774.7,141.3 776.7,144.7 782.0,143.3 786.0,140.7 790.0,141.3 790.7,145.3 793.3,140.7 798.0,138.0 804.7,137.3 811.3,138.7 816.7,142.0 819.3,144.7 814.7,147.3 814.0,150.0 819.3,148.7 823.3,150.7 826.0,152.7 830.0,150.7M778.0,127.3 787.3,126.7 798.0,127.3 803.3,130.0 807.3,133.3 802.0,134.0 795.3,132.7 787.3,134.0 782.0,134.7 779.3,131.3 778.0,127.3M672.7,154.0 679.3,150.0 686.0,147.3 694.0,148.0 696.7,153.3 699.3,157.3 704.7,162.7 699.3,166.7 696.7,171.3 694.0,177.3 688.7,174.7 686.0,177.3 692.7,180.0 694.0,182.7 686.0,184.7 682.0,188.0 680.7,193.3 682.0,196.7 678.0,194.7 674.0,190.7 670.0,188.0M699.3,168.7 708.7,169.3 712.7,174.7 714.0,180.0 716.0,183.3 720.7,176.0 726.0,174.7 730.0,180.0 727.3,185.3 727.3,190.0 734.0,196.0 739.3,194.7 743.3,189.3 746.7,184.0 748.7,178.7 752.7,177.3 750.0,173.3 746.0,172.0 748.7,168.7 755.3,168.0 763.3,170.0 771.3,173.3 772.7,178.7 767.3,178.7 764.7,182.7 767.3,188.0 774.0,192.0 771.3,197.3 766.0,201.3 762.0,203.3 756.7,200.0 751.3,196.0 748.7,198.0 755.3,203.3 757.3,206.7 755.3,210.7 752.7,204.0 744.7,201.3 736.7,202.0 740.7,204.7 742.0,207.3 738.0,210.7 734.0,214.7 728.7,214.7 723.3,213.3 716.7,209.3 711.3,208.0 714.0,211.3 720.7,213.3 727.3,216.0 732.7,218.7M723.3,154.9 734.0,157.1 723.3,155.7M732.7,161.3 739.3,166.7 735.3,164.7 732.7,161.3M734.7,185.3 737.3,182.7 739.3,185.3 736.7,188.0 734.7,185.3M778.0,157.3 784.7,158.7 790.0,161.3 790.7,165.3 784.7,164.7 775.3,166.7 776.7,164.0M786.7,176.0 790.0,172.7 794.0,172.0 792.7,175.3 788.7,177.3 786.7,176.0M800.7,188.0 803.3,184.0 808.7,182.0 813.3,184.0 814.0,189.3 811.3,193.3 806.0,194.7 801.3,192.7 800.7,188.0M799.3,170.7 803.3,174.7 801.3,173.3 799.3,170.7M803.3,175.3 811.3,179.3 806.0,178.0 803.3,175.3M814.0,180.0 816.7,182.7M816.7,186.0 826.0,189.3 819.3,188.0 816.7,186.0M830.0,198.7 824.7,201.3 820.7,206.7 823.3,210.7 820.7,213.3 815.3,214.7 811.3,216.0 803.3,214.7 796.7,217.3 795.3,222.7 800.7,225.3 808.7,226.0 812.7,224.0 811.3,220.0 816.7,220.0 823.3,222.7 830.0,224.0M820.0,148.0 824.0,150.7 826.7,152.7 830.7,149.3 834.7,148.7 838.7,152.0 836.0,154.7 841.3,156.0 845.3,158.7 849.3,157.3 854.7,158.0 857.3,161.3 853.3,163.3 850.0,165.3 852.0,167.3 857.3,164.0 862.7,162.7 866.7,166.0 866.0,170.0 861.3,170.0 858.7,172.0 862.7,174.0 868.0,173.3 865.3,176.0 860.0,174.7 856.7,175.3 855.3,177.3 858.7,180.7 862.7,182.0 866.7,184.7 869.3,188.0 874.7,188.0 880.0,186.7 884.0,189.3 886.7,192.7 883.3,194.7 885.3,197.3 890.7,195.3 894.7,196.7 898.7,197.3 904.7,200.7 902.7,204.0 898.7,203.3 896.7,206.7 900.0,208.7 896.0,210.7 892.0,212.0 892.0,216.0 889.3,218.7 886.7,214.7 882.7,214.0 880.7,210.7 878.7,207.3 875.3,204.0 872.0,201.3 866.7,200.0 862.7,202.7 864.0,207.3 860.0,206.0 858.7,206.7 861.3,210.7 865.3,214.7 868.0,218.7 873.3,221.3 878.7,224.0 880.0,228.0M820.0,180.7 825.3,182.7 830.0,186.7 832.7,192.0 832.7,196.0 830.7,199.3 828.0,201.3 824.0,204.0 820.0,208.0M820.0,187.7 826.7,188.7 820.0,188.8M832.7,200.0 837.3,198.7 841.3,196.0 845.3,198.7 850.7,200.7 853.3,202.7 850.7,206.0 845.3,206.7 841.3,208.0 838.7,205.3 836.0,202.7 832.7,200.0M820.0,210.7 824.0,213.3 822.7,214.7 820.0,214.7M820.0,221.3 825.3,222.7 828.0,226.7 829.3,228.0M931.3,112.7 934.7,114.7 937.3,119.3 940.7,124.0 944.0,129.3 950.0,134.0 949.3,136.7 944.7,137.3 944.0,141.3 944.0,145.3 941.6,147.7 944.7,150.7 949.3,151.7 953.3,148.0 957.3,146.0 964.0,146.0 968.0,147.3 970.7,153.3 973.3,158.7 975.3,162.7 966.7,160.7 958.7,158.7 952.0,157.3 953.3,159.3 960.0,161.3 968.0,164.0 974.7,166.0 978.0,166.0M958.7,150.7 964.0,152.7 965.3,154.7 960.0,153.3 958.7,150.7M960.0,162.7 953.3,162.0 948.7,164.0 948.0,167.3 951.3,170.7 956.0,173.3 961.3,172.0 966.7,170.0 965.3,167.3 961.3,164.7 960.0,162.7M978.0,166.0 976.0,169.3 978.7,172.0 975.3,174.7 978.0,177.3M978.0,180.0 972.0,180.0 964.0,180.0 961.3,182.7 960.0,186.7 961.3,189.3 966.7,190.0 972.0,191.3 978.0,192.7M962.7,181.3 968.0,182.7 969.3,188.0 964.0,188.0 962.7,181.3M965.3,184.0 966.7,186.7M978.0,186.0 972.0,185.3 968.0,188.0M961.3,190.0 957.3,192.0 956.0,194.7 960.0,196.7 957.3,200.0 961.3,201.3 964.7,199.3 963.3,202.7 958.7,204.0 957.3,206.7 961.3,210.7 964.0,213.3 966.7,218.7 967.3,225.3 970.7,226.7 973.3,224.0 978.0,221.3M958.7,207.3 964.0,209.3 969.3,213.3 974.7,218.7 978.0,220.7M820.0,220.0 825.0,223.3 830.0,226.7 836.7,230.0 840.0,233.3 837.5,237.5 843.3,240.8 845.0,244.2 850.0,243.3 856.7,245.0 863.3,247.5 870.0,249.2 875.0,252.5M855.8,230.8 860.8,231.7 865.0,232.5 862.5,235.8 866.7,240.0 870.8,245.0 874.2,251.7M855.8,230.8 858.3,235.8 863.3,241.7 870.0,247.5M868.3,220.0 873.3,221.7 878.3,223.3 880.0,228.3 884.2,231.7 885.0,236.7 881.7,240.0 880.0,243.3 880.8,235.0 876.7,230.0 873.3,226.7M878.3,254.7 884.2,255.3 883.3,257.5 879.2,256.7 878.3,254.7M792.5,235.3 798.3,236.7 793.3,236.3M800.0,233.7 803.3,235.0M780.8,250.8 784.2,247.5 786.7,249.2 785.0,253.3 781.7,254.2 780.8,250.8M783.3,370.0 785.8,365.0 790.0,361.7 790.8,353.3 790.0,345.0 788.3,336.7 785.0,328.3 790.0,323.3 796.7,318.3 803.3,313.3 805.8,306.7 805.0,300.0 801.7,295.0 796.7,290.0 792.5,285.0 795.8,280.0 800.0,275.0 798.3,270.0 800.8,265.0 796.7,261.7 799.2,256.7 797.5,251.7 795.8,247.5 800.0,245.0 806.7,246.7 813.3,248.3 821.7,246.7 828.3,248.3 833.3,253.3 838.3,258.3 846.7,260.8 851.7,261.7 850.8,268.3 851.7,275.0 850.0,281.7 848.3,284.2 853.3,285.0 858.3,286.7 861.7,290.8 866.7,289.2 870.8,285.8 875.0,286.7 876.7,281.7 878.3,276.7 881.7,273.3 883.3,270.0 886.7,273.3 890.0,277.5 893.3,283.3 896.7,288.3 895.0,290.8 900.0,295.0 903.3,300.0 905.0,303.3 900.0,305.0 899.2,308.3 903.3,311.7 908.3,316.7 911.7,320.8 910.0,324.2 913.3,323.3 920.0,325.0 926.7,328.3 931.7,330.0 925.0,331.7 918.3,334.2 912.5,336.7 911.7,342.5 916.7,340.0 923.3,336.7 930.0,335.0 933.3,340.0 938.3,340.8 940.8,346.7 941.7,353.3 938.3,358.3 930.0,360.8 923.3,362.5 918.3,368.3 916.7,370.0M943.3,360.0 938.3,363.3 935.0,368.3 933.3,370.0M858.3,266.3 861.7,267.5 860.0,269.2 858.3,266.3M782.5,315.8 785.8,310.8 790.0,308.3 789.2,311.7 785.0,315.0 782.5,315.8M925.0,360.8 921.7,362.5 916.7,367.5 915.0,371.7 903.3,374.2 888.3,373.3 873.3,373.3 870.0,375.8 866.7,380.8 860.0,385.0 853.3,391.7 848.3,398.3 843.3,405.8 840.8,410.8M845.0,406.7 850.0,400.0 855.0,395.8 863.3,391.7 871.7,387.5 880.0,386.7 885.0,390.0 884.2,393.3 880.0,395.8 875.0,397.5 872.5,399.2 878.3,401.7 880.0,405.8 883.3,410.0 886.7,415.0 886.7,418.3 893.3,420.8 900.0,421.7 905.0,423.3 896.7,426.7 888.3,430.8 881.7,435.8 876.7,441.7 875.0,445.8 873.3,441.7 875.0,436.7 878.3,431.7 883.3,426.7 886.7,422.5 881.7,423.3 876.7,425.8 871.7,428.3 866.7,431.7 860.0,435.0 853.3,438.3 846.7,442.5 843.3,448.3 841.7,453.3 844.2,458.3 846.7,463.3 843.3,466.7 838.3,468.3 833.3,470.8 828.3,473.3 821.7,475.0 818.3,483.3 815.8,490.0 813.3,498.3 811.7,510.0M885.8,379.2 891.7,378.3 898.3,380.8 902.5,385.0 898.3,386.7 891.7,384.2 886.7,381.7 885.8,379.2M886.7,413.3 893.3,412.5 898.3,415.0 895.0,417.5 889.2,416.7 886.7,413.3M905.0,410.0 910.0,408.3 913.3,413.3 911.7,418.3 906.7,421.7 904.2,416.7 905.0,410.0M907.5,411.7 909.2,418.3M944.2,360.0 940.0,363.3 937.5,369.2 935.0,375.8 940.0,376.7 945.0,381.7 950.0,383.3 955.0,386.7 956.7,391.7 954.2,395.8 958.3,398.3 959.2,403.3 955.0,405.8 951.7,408.3 948.3,405.0 950.0,401.7 945.0,400.8 940.0,403.3 933.3,401.7 926.7,400.8 920.0,400.0 918.3,397.5 921.7,393.3 925.0,390.0 923.3,386.7 926.7,381.7 928.3,376.7 930.8,370.0 934.2,365.0 937.5,361.7M913.0,440.0 915.3,440.3 915.0,442.0 913.0,441.7 913.0,440.0M823.3,473.3 831.7,470.0 840.0,466.7 835.0,470.8 826.7,475.0 823.3,473.3M788.3,443.3 796.7,440.0 805.0,439.2 801.7,445.0 793.3,447.5 788.3,446.7 788.3,443.3M805.0,439.2 813.3,431.7 823.3,426.7 833.3,416.7 840.8,410.8M801.7,490.0 805.0,498.3 803.3,510.0M808.3,490.0 810.8,498.3 808.3,510.0M733.3,215.0 732.5,220.0 730.0,224.2 723.3,227.5 718.3,229.2 715.8,227.5 716.7,231.7 711.7,233.3 707.5,231.7 701.7,230.8 695.0,229.2 700.0,231.7 706.7,234.2 712.5,236.7 708.3,240.0 701.7,240.8 704.2,242.5 700.0,245.8 695.0,250.0 692.5,255.0 689.2,260.0 686.7,266.7 685.0,273.3 685.0,280.0 688.3,283.3 694.2,285.0 696.7,290.0 699.2,295.0 700.8,300.0 701.7,303.3 706.7,301.7 713.3,300.8 720.0,303.3 725.0,305.8 729.2,310.0 732.5,314.2 738.3,315.8 745.0,318.3 751.7,321.7 758.3,321.7 764.2,322.5 768.3,325.0 767.5,331.7 768.3,338.3 766.7,344.2 770.0,348.3 771.7,353.3 776.7,356.7 779.2,361.7 781.7,365.0M791.7,365.0 790.8,360.0 792.5,353.3 790.0,348.3 790.8,341.7 788.3,336.7 786.7,331.7 785.0,328.3 790.0,325.0 795.8,321.7 800.8,318.3 804.2,313.3 805.8,306.7 805.8,300.0 804.2,295.0 800.0,291.7 795.8,288.3 792.5,285.0 796.7,280.8 800.0,276.7 800.8,271.7 798.3,267.5 800.0,264.2 794.2,263.3 797.5,258.3 799.2,254.2 795.8,251.7 795.0,248.3 798.3,245.0 804.2,245.8 810.0,247.5 816.7,245.8 825.0,245.0 831.7,247.5 836.7,252.5 840.0,256.7M735.0,233.3 740.0,231.7 742.5,229.2 746.7,233.3 748.3,237.5 753.3,235.0 756.7,232.5 760.0,229.7M740.0,224.2 737.5,229.2 735.0,233.3M743.3,215.0 748.3,216.7 756.7,220.0 763.3,223.3 768.3,227.5 773.3,231.7 778.3,233.3M756.7,247.5 760.0,243.3 765.0,240.0 770.0,240.0 767.5,244.2 763.3,247.5 756.7,247.5M780.0,251.7 783.3,247.5 786.7,247.5 785.0,253.3 782.5,255.0 780.0,251.7M782.5,315.8 785.0,311.7 790.0,307.5 790.0,311.7 785.0,315.0 782.5,315.8M768.3,346.7 773.3,344.2 778.3,348.3 773.3,347.5 768.3,346.7M795.0,221.7 800.0,218.3 806.7,217.5 813.3,220.8 810.0,224.2 803.3,225.0 796.7,224.2 795.0,221.7M813.3,220.8 820.0,218.3 826.7,221.7 833.3,226.7 838.3,231.7 840.0,236.7M791.7,235.0 798.3,236.7 793.3,236.3M800.0,232.5 804.2,235.8M381.7,240.0 381.7,261.7 383.3,267.5 391.7,270.8 400.0,275.8 405.0,280.0 413.3,275.0 418.3,274.2 423.3,280.0 430.0,286.7 435.0,295.0 440.0,303.3 446.7,310.0 452.5,314.2 453.3,321.7 450.8,326.7M350.0,267.5 355.0,266.7 358.3,270.8 366.7,271.7 375.0,270.8 383.3,273.3 390.0,277.5 398.3,280.8 405.0,285.0 410.0,288.3M410.0,290.0 415.0,287.5 420.0,290.0 416.7,295.0 411.7,294.2 410.0,290.0M416.7,296.7 423.3,295.0 426.7,300.0 421.7,303.3 416.7,300.8 416.7,296.7M423.3,305.0 430.0,303.3 433.3,308.3 428.3,310.0 423.3,305.0M430.0,311.7 436.7,310.8 440.8,315.0 443.3,320.0 438.3,318.3 433.3,316.7 430.0,311.7M436.7,313.3 441.7,311.7 445.0,316.7M431.7,321.7 438.3,323.3 435.0,326.7 431.7,321.7M416.7,278.3 420.0,283.3 425.0,288.3 430.0,295.0 435.0,301.7 440.0,308.3 445.0,313.3 448.3,318.3 450.0,323.3M436.7,335.0 440.8,336.7 440.0,341.7 442.5,350.0 437.5,345.8 433.3,340.0 436.7,335.0M451.7,335.8 454.2,338.3 450.8,343.3 455.0,345.0 456.7,340.0 460.0,338.3 458.3,346.7 461.7,350.0 466.7,348.3 472.5,350.8 469.2,355.0 465.0,358.3 465.0,361.7 470.0,365.0 466.7,368.3 463.3,369.2 466.7,373.3 473.3,376.7 478.3,381.7 483.3,385.0 488.3,386.7 493.3,390.0M473.3,368.3 478.3,366.7 483.3,371.7 486.7,371.7 486.7,376.7 491.7,381.7 496.7,381.7 498.3,386.7M495.0,387.0 550.0,387.0M216.7,250.0 215.0,254.2 218.3,258.3 223.3,260.0 227.5,261.7 223.3,265.0 225.8,269.2 233.3,270.8 240.0,270.8 242.5,276.7 243.3,281.7 246.7,285.0 253.3,282.5 260.0,283.3 264.2,287.5 265.8,282.5 270.0,285.0 275.0,284.2 273.3,289.2 271.7,295.0 269.2,300.0 265.0,303.3 263.3,307.5 258.3,310.0 253.3,313.3 250.0,315.8 245.0,317.5 240.0,320.0 235.0,323.3 230.0,325.8 225.0,328.3 223.3,330.8 226.7,331.7 231.7,328.3 236.7,325.8 243.3,321.7 250.0,318.3 256.7,315.8 263.3,313.3 266.7,309.2 271.7,305.8 278.3,301.7 278.3,298.3 283.3,295.0 288.3,291.7 295.0,288.3 298.3,284.2 293.3,280.8 296.7,276.7 301.7,271.7 306.7,266.7 311.7,261.7 316.7,258.3 323.3,258.3 326.7,261.7 321.7,263.3 316.7,263.3 313.3,266.7 310.8,271.7 310.0,276.7 309.2,280.8 315.0,277.5 320.0,274.2 326.7,271.7 330.0,270.0 333.3,265.0 331.7,260.8 335.0,259.2 338.3,261.7 337.5,266.7 335.8,271.7 338.3,273.3M341.7,262.5 350.0,265.0M343.3,265.8 345.3,267.5M345.3,265.8 343.3,267.5M291.7,300.0 296.7,295.0 303.3,294.2 306.7,296.7 302.5,300.0 298.3,304.2 293.3,303.3 291.7,300.0M303.3,288.7 307.5,290.0 304.2,290.8 303.3,288.7M209.2,335.0 214.2,334.2 214.2,338.3 210.8,341.3 209.2,335.0M200.0,340.3 204.2,341.3 200.8,342.5 200.0,340.3M160.0,352.5 162.0,354.2 160.3,354.7 160.0,352.5M225.0,330.0 230.0,327.0 233.3,328.3 238.3,324.2 243.3,323.3 248.3,319.2 253.3,316.7M470.0,366.7 476.7,369.2 481.7,370.8 486.7,372.5 486.7,376.7 493.3,379.2 498.3,381.7 497.5,386.7 501.7,390.0 503.3,395.0 502.5,400.8 500.0,405.0 499.2,400.8 496.7,396.7 493.3,393.3 490.8,398.3 490.0,403.3 492.5,408.3 491.7,415.0 492.5,421.7 490.8,431.7 490.0,438.3 491.7,445.0 488.3,450.0 489.2,456.7 490.8,461.7 490.8,468.3 489.2,475.0 490.8,481.7 493.3,488.3 496.7,496.7 500.8,503.3 504.2,506.7 503.3,511.7 505.8,515.0M470.0,375.8 475.0,378.3 478.3,383.3 483.3,385.8 488.3,388.3 491.7,393.3 490.8,398.3M501.7,505.0 503.3,510.0 505.8,515.0 509.2,521.7 512.5,528.3 515.0,535.0 514.2,540.0 520.0,542.5 526.7,545.0 532.5,550.0 535.8,556.7 536.7,561.7 540.0,568.3 542.5,575.0 545.0,581.7 547.5,588.3 551.7,593.3 556.7,601.7 557.5,606.7 553.3,611.7 551.7,613.3 556.7,618.3 563.3,623.3 568.3,628.3 570.8,635.0 571.7,641.7 575.0,646.7 580.0,651.7 585.0,655.0M585.0,655.0 580.8,646.7 578.3,638.3 575.8,630.0 572.5,621.7 569.2,613.3 565.8,605.0 562.5,598.3 558.3,591.7 555.0,585.0 552.5,578.3 553.3,571.7 558.3,570.8 563.3,573.3 565.0,580.0 566.7,588.3 570.0,596.7 573.3,605.0 578.3,611.7 581.7,618.3 586.7,625.0 590.0,631.7 594.2,638.3 599.2,646.7 603.3,655.0M560.0,595.3 563.0,596.3 562.5,598.7 560.3,598.0 560.0,595.3M567.8,600.0 570.5,601.0 570.0,603.7 568.0,602.7 567.8,600.0M670.0,608.3 666.7,613.3 665.8,621.7 666.7,630.0 665.0,638.3 664.2,646.7 665.0,655.0M700.8,410.8 705.0,405.8 710.0,402.5 716.7,398.3 721.7,393.3 726.7,389.2 731.7,388.3 736.7,390.0 740.0,394.2 745.0,398.3 748.3,400.8 750.8,406.7 752.5,413.3 748.3,415.0 743.3,413.3 738.3,414.2 733.3,415.0 730.0,412.5 725.8,409.2 723.3,406.7 720.0,408.3 715.0,410.8 710.0,412.5 705.0,411.7 700.8,410.8M660.0,386.7 670.0,386.7 681.7,385.8 684.2,382.5 685.8,385.8 686.7,390.0 693.3,393.3 700.8,395.8 708.3,398.3 715.0,400.0M733.3,415.0 731.7,421.7 730.0,428.3 728.3,435.0 730.0,443.3 731.7,451.7 733.3,458.3 736.7,461.7 740.0,458.3 740.8,451.7 739.2,443.3 738.3,435.0 740.0,428.3 743.3,423.3 746.7,420.0 750.0,418.3 752.5,413.3M752.5,413.3 758.3,418.3 763.3,423.3 768.3,420.0 775.0,418.3 780.0,425.0 783.3,431.7 780.0,434.2 775.0,430.0 770.0,428.3 767.5,431.7 768.3,438.3 767.5,446.7 766.7,451.7 763.3,455.8 761.7,460.0M750.0,418.3 753.3,423.3 756.7,430.0 758.3,436.7 755.0,442.5 758.3,440.0 761.7,443.3 763.3,450.0 763.3,455.8M760.0,418.3 768.3,418.0 776.7,419.7 781.7,426.7 783.3,431.7M761.7,460.8 766.7,458.3 773.3,455.8 780.0,453.3 786.7,450.0 791.7,446.7 786.7,451.7 780.0,456.7 775.0,460.0 768.3,463.3 763.3,464.2 761.7,460.8M783.3,365.0 786.7,367.5 785.0,368.3M810.0,505.0 808.3,511.7 810.8,518.3 810.0,525.0 805.0,530.0 801.7,536.7 796.7,543.3 791.7,547.5 788.3,553.3 783.3,558.3 778.3,563.3 775.0,570.0 773.3,578.3 774.2,588.3 776.7,598.3 779.2,608.3 780.8,618.3 781.7,628.3 780.8,636.7 778.3,640.8 775.0,638.3 774.2,633.3 770.0,626.7 766.7,620.0 764.2,613.3 764.2,605.0 765.0,598.3 761.7,591.7 756.7,586.7 753.3,588.3 750.0,591.7 746.7,588.3 743.3,585.0 736.7,583.3 731.7,585.0 730.0,582.5 723.3,585.0 719.2,586.7 716.7,591.7 720.0,595.8 715.8,596.7 713.3,594.2 708.3,596.7 703.3,591.7 698.3,592.5 691.7,591.7 685.0,592.5 682.5,598.3 676.7,602.5 671.7,606.7 668.3,611.7 666.7,618.3 665.8,626.7 666.7,635.0 665.8,643.3 665.0,655.0M805.0,520.0 810.0,520.8 811.7,527.5 807.5,528.3 805.0,520.0M806.7,505.0 805.8,511.7 807.5,520.0M790.0,625.0 793.3,621.7 798.3,621.7 801.7,626.7 800.8,631.7 798.3,629.2 796.7,625.0 791.7,625.8 790.0,625.0M803.3,636.7 806.7,640.0 809.2,645.0 811.7,650.0M793.3,643.3 795.8,646.7 795.0,651.7M765.0,605.0 766.7,611.7 765.0,615.0M570.0,640.0 573.3,646.7 578.3,653.3 583.3,660.0 585.8,665.0 589.2,660.0 586.7,655.0 583.3,648.3 580.0,641.7 579.2,640.0M593.3,640.0 599.2,645.0 603.3,651.7 607.5,658.3 611.7,665.0 614.2,671.7 613.3,676.7 615.8,681.7 615.0,686.7 613.3,690.0 616.7,695.0 620.8,701.7 625.0,708.3 630.0,713.3 636.7,716.7 640.0,721.7 646.7,725.8 653.3,729.2 660.0,731.7 663.3,735.8 668.3,738.3 674.2,740.0 678.3,737.5 683.3,734.2 688.3,735.0 690.0,736.2M665.8,640.0 665.0,648.3 664.2,656.7 664.2,665.0 665.0,673.3 667.5,681.7 670.8,690.0 674.2,696.7 676.7,702.5 679.2,706.7 683.3,709.2 687.5,713.3 691.7,711.7 696.7,709.2 701.7,708.3 705.0,711.7 706.7,708.3 709.2,703.3 711.7,696.7 710.8,690.0 712.5,685.0 716.7,680.8 722.5,679.2 730.0,678.0 735.8,679.2 737.5,683.3 735.0,688.3 732.5,693.3 731.7,700.0M760.0,664.2 755.0,667.5 751.7,671.7 750.8,675.8 755.0,675.0 760.0,672.5M750.0,675.7 753.7,669.3 759.2,664.7 766.5,662.0 773.8,661.1 781.2,662.9 786.7,667.5 794.0,671.2 799.5,676.7 805.0,681.2 812.3,684.9 817.8,688.6 820.6,692.2 816.0,695.0 808.7,694.1 803.2,693.2 798.6,695.9 799.5,691.3 795.8,686.7 793.1,683.1 788.5,679.4 783.0,677.6 777.5,674.8 772.0,673.0 768.3,669.3 762.8,669.3 757.3,673.0 751.8,676.7 750.0,675.7M761.5,677.0 762.8,675.7 764.1,677.0 762.8,678.3 761.5,677.0 764.1,677.0M768.1,667.9 769.2,666.8 770.3,667.9 769.2,669.0 768.1,667.9 770.3,667.9M794.0,712.4 798.6,710.6 804.1,712.4 805.9,715.2 800.4,717.9 795.8,716.1 794.0,712.4M818.7,710.6 823.3,708.7 830.7,709.7 833.4,712.4 838.0,709.7 836.2,702.3 831.6,698.7 825.2,695.9 830.7,695.9 838.0,696.8 843.5,695.9 849.0,700.5 853.6,706.0 858.2,710.6 857.2,714.2 852.7,710.6 847.2,709.7 842.6,713.3 839.8,718.8 837.1,715.2 834.3,713.3 828.8,715.2 823.3,715.2 818.7,710.6M836.2,696.8 836.2,713.3M866.4,711.5 871.0,710.6 876.5,711.5 875.6,715.2 870.1,716.6 866.4,715.2 866.4,711.5M880.7,718.5 881.6,717.5 882.5,718.5 881.6,719.4 880.7,718.5 882.5,718.5M793.1,642.7 795.8,645.5 794.9,649.2 793.1,645.5 793.1,642.7M796.7,651.0 798.6,654.7M806.8,640.0 810.5,645.5 813.2,651.0M812.3,656.5 815.1,662.0 816.9,665.7M819.7,665.7 823.3,668.4 821.5,671.2 819.7,667.5M823.3,682.2 827.0,680.3 828.8,683.1 825.2,685.8 823.3,682.2M900.5,725.2 901.2,724.5 902.0,725.2 901.2,726.0 900.5,725.2 902.0,725.2M901.2,734.4 903.1,732.6 904.9,734.4 903.1,736.2 901.2,734.4 904.9,734.4M902.5,736.2 903.6,735.1 904.7,736.2 903.6,737.3 902.5,736.2 904.7,736.2M902.5,742.3 904.0,740.8 905.5,742.3 904.0,743.8 902.5,742.3 905.5,742.3M905.6,750.0 906.7,748.9 907.8,750.0 906.7,751.1 905.6,750.0 907.8,750.0M905.6,758.2 906.7,757.1 907.8,758.2 906.7,759.3 905.6,758.2 907.8,758.2M904.5,766.5 905.5,765.6 906.4,766.5 905.5,767.4 904.5,766.5 906.4,766.5M900.7,778.4 901.8,777.3 902.9,778.4 901.8,779.5 900.7,778.4 902.9,778.4M915.5,766.5 916.5,765.6 917.4,766.5 916.5,767.4 915.5,766.5 917.4,766.5M908.4,786.7 909.1,785.9 909.9,786.7 909.1,787.4 908.4,786.7 909.9,786.7M810.5,801.3 811.4,794.0 815.1,789.4 819.7,790.3 823.3,786.7 828.8,784.8 832.5,779.3 835.2,775.7 839.8,775.7 840.7,780.2 836.2,783.0 835.2,790.3 838.0,795.8 839.8,801.3M828.8,801.3 830.7,794.0 833.4,786.7 835.2,781.2M836.2,792.2 841.7,786.7 849.0,783.9 855.4,784.8 858.2,790.3 861.8,794.0 869.2,793.1 874.7,795.8 878.3,799.5 883.8,798.6 885.7,794.0 891.2,792.2 896.7,792.2 894.8,795.8 896.7,799.5M846.2,777.5 849.0,781.2 848.1,783.0M885.3,790.0 886.6,788.7 887.9,790.0 886.6,791.2 885.3,790.0 887.9,790.0M902.2,799.5 903.1,792.2 905.8,791.2 906.7,799.5M282.8,691.2 286.8,694.5 288.3,697.9 289.8,700.0 288.6,702.2 285.8,702.8 285.5,705.5 284.0,706.8 281.6,704.6 281.6,701.6 282.2,698.5 280.3,698.2 282.2,696.0 282.8,691.2M690.0,736.2 694.7,742.0 700.5,749.0 702.8,753.7 706.3,757.2 711.0,759.5 715.7,761.2 721.5,764.2 727.3,767.1 730.8,769.4 734.3,774.7 737.8,779.3 740.2,784.0 743.7,787.5 748.3,789.2 753.0,789.8 756.5,792.1 758.8,795.6 761.2,799.1 763.5,800.9M700.5,749.0 701.7,744.3 703.4,738.5 704.6,735.6 713.3,734.4 714.5,733.8 712.2,729.2 710.4,726.2 706.9,723.3 708.7,718.7 721.5,717.5 720.9,737.3M731.4,700.0 730.8,704.7 729.7,708.2 727.9,712.8 727.6,717.5 727.1,723.3 727.3,729.2 726.2,733.8 725.0,737.3 720.9,737.6M728.5,707.0 730.8,707.2 730.2,711.7 725.0,716.3 723.8,715.2 728.5,707.0M707.5,722.2 709.2,718.7 721.5,716.9 721.5,718.7 710.4,719.8 707.5,722.2M725.0,739.1 729.7,737.9 735.5,737.9 741.3,736.7 746.0,737.6 753.0,737.3 755.3,740.2 755.9,743.7 759.4,745.5 761.2,749.0 761.2,754.8 760.0,758.3 758.2,763.0 757.7,770.0 758.2,777.0 757.7,784.0 757.4,792.1 760.0,796.8 762.9,800.3M725.0,739.1 723.8,743.2 722.1,746.7 720.9,752.5 718.0,753.7 717.4,757.2 715.1,760.7M718.0,753.7 721.5,756.0 725.0,758.3 728.5,760.1 730.2,763.6 730.8,768.8M730.2,763.6 732.0,767.7 736.7,768.8 737.8,764.2 740.2,760.7 743.7,758.3 746.0,754.8 749.5,750.2 753.0,751.3 756.5,749.0 760.0,747.8M743.7,787.5 747.2,789.8 750.7,790.4 755.3,792.1 757.4,792.1M743.7,787.5 743.1,793.3 743.7,800.9M746.0,792.1 746.6,796.8 749.5,800.3M530.0,138.1 527.0,141.0 525.0,143.8 526.7,145.8 530.8,145.8 535.0,149.2 540.0,150.8M540.0,150.8 535.8,152.5 531.7,153.3 530.0,155.0"/>
<path stroke="#000" stroke-width="1" fill="#000" d="M255.9,671.0 259.9,671.0 259.9,675.0 255.9,675.0ZM266.3,676.5 269.0,676.0 271.0,681.5 268.0,681.8 266.0,679.0ZM271.5,681.0 276.0,681.0 283.0,686.5 278.5,690.0 277.0,686.0 272.0,685.0ZM867.5,546.0 870.5,546.0 871.0,549.0 868.0,549.5Z"/>
<path stroke="#ffff00" stroke-width="1" shape-rendering="crispEdges" d="M340.0,157.5 373.3,164.7 379.5,165.0 379.5,255.0M350.0,159.7 274.2,144.7 208.3,175.8 208.3,186.7 221.7,197.5 195.8,207.5 208.3,229.5 234.2,229.5 208.3,250.0 214.2,261.7 203.3,270.8 210.8,280.0M780.0,450.8 786.7,441.7 798.3,441.3 806.7,430.8 834.2,430.0 840.0,416.7 853.3,398.7 860.0,398.7 866.7,408.3 872.5,430.0 872.5,441.7 846.7,451.3 853.3,472.5 827.5,483.3 815.8,510.0M379.7,240.0 379.7,261.3 399.2,271.3 419.7,271.3 450.8,312.5 451.3,335.3 438.3,335.3 425.8,324.7 405.0,303.3 385.8,281.7 350.0,272.5M484.7,390.0 484.7,377.5 550.0,377.5M208.3,250.0 215.8,261.7 202.5,270.8 215.8,282.5 221.7,271.7 248.3,292.5 267.5,292.5 262.5,303.3 195.0,335.0 195.8,356.7 263.3,323.3 280.8,303.3 294.2,314.2 320.0,282.5 340.8,281.7 347.5,270.8 350.0,270.8M670.0,377.5 485.0,377.5 485.0,484.2 498.3,515.0M494.2,505.0 517.5,557.5 575.8,578.0 610.0,578.0 622.5,599.2 642.5,599.2 655.0,631.7 670.0,643.3M660.0,377.5 729.2,377.5 766.7,428.3 767.5,451.7 760.8,461.7 766.7,462.5 787.5,442.0M650.0,618.3 656.7,631.7 667.5,641.7 675.0,610.0 695.0,599.7 755.0,599.7 767.5,642.5 787.5,642.5 774.2,578.3 813.3,536.7 814.2,514.2 817.5,505.0M766.5,640.0 766.5,642.2 787.6,642.2 787.6,640.0"/>
<path stroke="#00ffff" stroke-width="1" shape-rendering="crispEdges" d="M373.8,165.0 378.3,164.7 470.8,155.0 885.0,260.8 911.7,315.0 936.7,333.3 965.0,398.3 958.3,419.2 931.7,409.5 872.5,450.8 859.2,409.5 853.3,409.5 840.0,430.5 813.3,430.5 787.0,451.0 758.3,416.7 701.7,388.3 491.7,388.3 484.2,397.5 431.7,344.2 425.8,324.7 445.3,324.7 445.3,314.2 420.0,282.5 405.0,282.5 373.8,270.8 373.8,165.0"/>
</g>
<rect x="156.5" y="112.5" width="822" height="689" stroke="#000" stroke-width="1" fill="none" shape-rendering="crispEdges"/>
<g class="mono" font-size="22" fill="#000" stroke="#fff" stroke-width="0.45">
<text x="220.8" y="823">-160</text>
<text x="352.8" y="823">-140</text>
<text x="483.8" y="823">-120</text>
<text x="615.8" y="823">-100</text>
<text x="753.9" y="823">-80</text>
<text x="885.9" y="823">-60</text>
<text x="149" y="807" text-anchor="end">10</text>
<text x="149" y="701" text-anchor="end">20</text>
<text x="149" y="595" text-anchor="end">30</text>
<text x="149" y="489" text-anchor="end">40</text>
<text x="149" y="383" text-anchor="end">50</text>
<text x="149" y="277" text-anchor="end">60</text>
<text x="149" y="171" text-anchor="end">70</text>
</g>
<g class="mono" font-size="18.7" font-weight="bold" text-anchor="middle" fill="#000">
<text x="570" y="844">Longitude</text>
<text transform="translate(111.5,454.5) rotate(-90)">Latitude</text>
</g>
<g class="mono" font-size="15" fill="#000" xml:space="preserve">
<text x="162" y="572.5" style="white-space:pre">Percent| CONUS   | Alaska |Canada</text>
<text x="162" y="593.5" style="white-space:pre"> Avail.|Coverage |Coverage|Coverage</text>
<text x="162" y="603.5" style="white-space:pre">-----------------------------------</text>
<text x="162" y="614.5" style="white-space:pre">  99   | 0.00% | 0.00% | 0.00%</text>
<text x="162" y="635.5" style="white-space:pre">  99.9 | 0.00% | 0.00% | 0.00%</text>
<text x="162" y="656.5" style="white-space:pre">  100  | 0.00% | 0.00% | 0.00%</text>
</g>
<g class="mono" font-size="10" fill="#000">
<text transform="translate(187.5,747) scale(1,1.25)">W.J.H. FAA Technical Center</text>
<text transform="translate(187.5,760) scale(1,1.25)">WAAS Test Team</text>
</g>
<g shape-rendering="crispEdges">
<rect x="1010" y="791.23" width="43" height="11.37" fill="#00008f"/><rect x="1010" y="780.47" width="43" height="11.37" fill="#00009f"/><rect x="1010" y="769.70" width="43" height="11.37" fill="#0000af"/><rect x="1010" y="758.94" width="43" height="11.37" fill="#0000bf"/><rect x="1010" y="748.17" width="43" height="11.37" fill="#0000cf"/><rect x="1010" y="737.41" width="43" height="11.37" fill="#0000df"/><rect x="1010" y="726.64" width="43" height="11.37" fill="#0000ef"/><rect x="1010" y="715.88" width="43" height="11.37" fill="#0000ff"/><rect x="1010" y="705.11" width="43" height="11.37" fill="#0010ff"/><rect x="1010" y="694.34" width="43" height="11.37" fill="#0020ff"/><rect x="1010" y="683.58" width="43" height="11.37" fill="#0030ff"/><rect x="1010" y="672.81" width="43" height="11.37" fill="#0040ff"/><rect x="1010" y="662.05" width="43" height="11.37" fill="#0050ff"/><rect x="1010" y="651.28" width="43" height="11.37" fill="#0060ff"/><rect x="1010" y="640.52" width="43" height="11.37" fill="#0070ff"/><rect x="1010" y="629.75" width="43" height="11.37" fill="#0080ff"/><rect x="1010" y="618.98" width="43" height="11.37" fill="#008fff"/><rect x="1010" y="608.22" width="43" height="11.37" fill="#009fff"/><rect x="1010" y="597.45" width="43" height="11.37" fill="#00afff"/><rect x="1010" y="586.69" width="43" height="11.37" fill="#00bfff"/><rect x="1010" y="575.92" width="43" height="11.37" fill="#00cfff"/><rect x="1010" y="565.16" width="43" height="11.37" fill="#00dfff"/><rect x="1010" y="554.39" width="43" height="11.37" fill="#00efff"/><rect x="1010" y="543.62" width="43" height="11.37" fill="#00ffff"/><rect x="1010" y="532.86" width="43" height="11.37" fill="#10ffef"/><rect x="1010" y="522.09" width="43" height="11.37" fill="#20ffdf"/><rect x="1010" y="511.33" width="43" height="11.37" fill="#30ffcf"/><rect x="1010" y="500.56" width="43" height="11.37" fill="#40ffbf"/><rect x="1010" y="489.80" width="43" height="11.37" fill="#50ffaf"/><rect x="1010" y="479.03" width="43" height="11.37" fill="#60ff9f"/><rect x="1010" y="468.27" width="43" height="11.37" fill="#70ff8f"/><rect x="1010" y="457.50" width="43" height="11.37" fill="#80ff80"/><rect x="1010" y="446.73" width="43" height="11.37" fill="#8fff70"/><rect x="1010" y="435.97" width="43" height="11.37" fill="#9fff60"/><rect x="1010" y="425.20" width="43" height="11.37" fill="#afff50"/><rect x="1010" y="414.44" width="43" height="11.37" fill="#bfff40"/><rect x="1010" y="403.67" width="43" height="11.37" fill="#cfff30"/><rect x="1010" y="392.91" width="43" height="11.37" fill="#dfff20"/><rect x="1010" y="382.14" width="43" height="11.37" fill="#efff10"/><rect x="1010" y="371.38" width="43" height="11.37" fill="#ffff00"/><rect x="1010" y="360.61" width="43" height="11.37" fill="#ffef00"/><rect x="1010" y="349.84" width="43" height="11.37" fill="#ffdf00"/><rect x="1010" y="339.08" width="43" height="11.37" fill="#ffcf00"/><rect x="1010" y="328.31" width="43" height="11.37" fill="#ffbf00"/><rect x="1010" y="317.55" width="43" height="11.37" fill="#ffaf00"/><rect x="1010" y="306.78" width="43" height="11.37" fill="#ff9f00"/><rect x="1010" y="296.02" width="43" height="11.37" fill="#ff8f00"/><rect x="1010" y="285.25" width="43" height="11.37" fill="#ff8000"/><rect x="1010" y="274.48" width="43" height="11.37" fill="#ff7000"/><rect x="1010" y="263.72" width="43" height="11.37" fill="#ff6000"/><rect x="1010" y="252.95" width="43" height="11.37" fill="#ff5000"/><rect x="1010" y="242.19" width="43" height="11.37" fill="#ff4000"/><rect x="1010" y="231.42" width="43" height="11.37" fill="#ff3000"/><rect x="1010" y="220.66" width="43" height="11.37" fill="#ff2000"/><rect x="1010" y="209.89" width="43" height="11.37" fill="#ff1000"/><rect x="1010" y="199.12" width="43" height="11.37" fill="#ff0000"/><rect x="1010" y="188.36" width="43" height="11.37" fill="#ef0000"/><rect x="1010" y="177.59" width="43" height="11.37" fill="#df0000"/><rect x="1010" y="166.83" width="43" height="11.37" fill="#cf0000"/><rect x="1010" y="156.06" width="43" height="11.37" fill="#bf0000"/><rect x="1010" y="145.30" width="43" height="11.37" fill="#af0000"/><rect x="1010" y="134.53" width="43" height="11.37" fill="#9f0000"/><rect x="1010" y="123.77" width="43" height="11.37" fill="#8f0000"/><rect x="1010" y="113.00" width="43" height="11.37" fill="#800000"/>
<rect x="1010.5" y="113.5" width="42" height="688.5" fill="none" stroke="#000"/>
<path d="M1011,342.5H1017M1052,342.5H1046M1011,572.5H1017M1052,572.5H1046" stroke="#000" fill="none"/>
</g>
<g class="sans" font-size="20.5" fill="#000">
<text x="1058" y="120">1</text>
<text x="1058" y="349.5">0.95</text>
<text x="1058" y="579">0.9</text>
<text x="1058" y="808">0.85</text>
</g>
</svg>
</body></html>
